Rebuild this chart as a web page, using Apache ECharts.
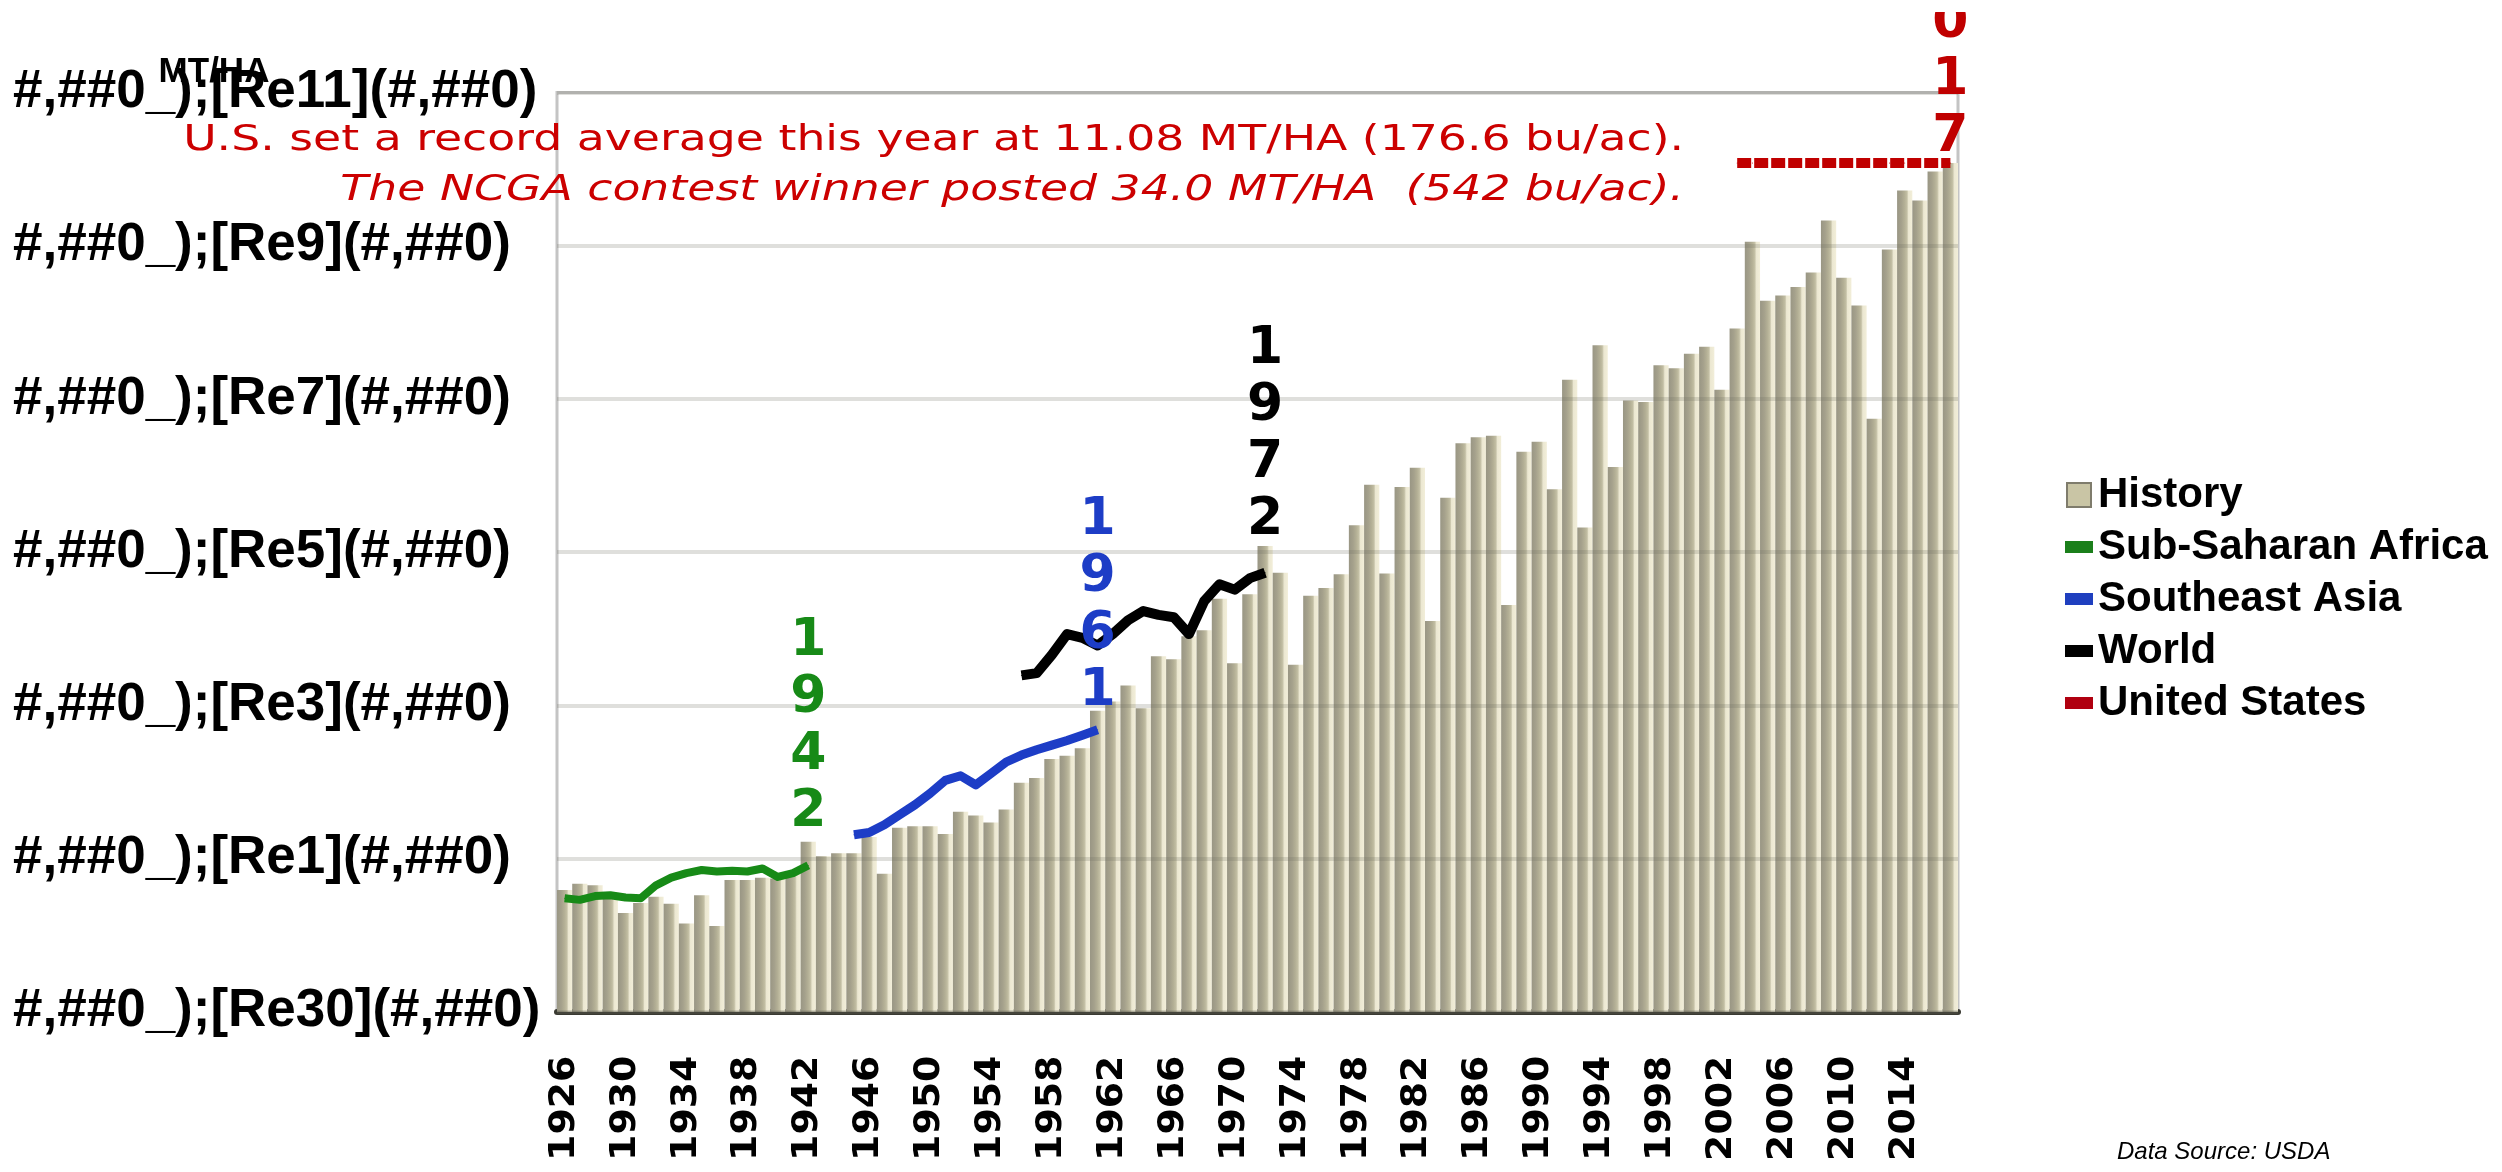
<!DOCTYPE html>
<html>
<head>
<meta charset="utf-8">
<title>U.S. corn yield history</title>
<script src="https://cdn.jsdelivr.net/npm/echarts@6/dist/echarts.min.js"></script>
<style>
  html, body { margin: 0; padding: 0; background: #ffffff; width: 2502px; height: 1172px; overflow: hidden; }
  #chart { position: absolute; left: 0; top: 12px; width: 2502px; height: 1160px; }
</style>
</head>
<body>
<div id="chart"></div>
<script>
// ---- data -------------------------------------------------------------
const years = [];
for (let y = 1926; y <= 2017; y++) years.push(String(y));

// U.S. average yield, MT/HA, 1926..2017
const historyYield = [
  1.59, 1.67, 1.65, 1.47, 1.29, 1.42, 1.50, 1.41, 1.15, 1.52,   // 1926-1935
  1.12, 1.72, 1.72, 1.75, 1.74, 1.80, 2.22, 2.03, 2.07, 2.07,   // 1936-1945
  2.28, 1.80, 2.40, 2.42, 2.42, 2.32, 2.61, 2.56, 2.47, 2.64,   // 1946-1955
  2.99, 3.05, 3.30, 3.34, 3.44, 3.93, 4.05, 4.26, 3.96, 4.64,   // 1956-1965
  4.60, 4.90, 4.98, 5.39, 4.55, 5.45, 6.08, 5.73, 4.53, 5.43,   // 1966-1975
  5.53, 5.71, 6.35, 6.88, 5.72, 6.85, 7.10, 5.10, 6.71, 7.42,   // 1976-1985
  7.50, 7.52, 5.31, 7.31, 7.44, 6.82, 8.25, 6.32, 8.70, 7.11,   // 1986-1995
  7.98, 7.96, 8.44, 8.40, 8.59, 8.68, 8.12, 8.92, 10.05, 9.28,  // 1996-2005
  9.35, 9.46, 9.65, 10.33, 9.58, 9.22, 7.74, 9.95, 10.72, 10.59, // 2006-2015
  10.97, 11.08                                                  // 2016-2017
];

const africaYears = ['1926','1927','1928','1929','1930','1931','1932','1933','1934',
                     '1935','1936','1937','1938','1939','1940','1941','1942'];
const africaYield = [1.48, 1.46, 1.51, 1.52, 1.49, 1.48, 1.65, 1.75, 1.81,
                     1.85, 1.83, 1.84, 1.83, 1.87, 1.76, 1.81, 1.91];

const asiaYears = ['1945','1946','1947','1948','1949','1950','1951','1952','1953',
                   '1954','1955','1956','1957','1958','1959','1960','1961'];
const asiaYield = [2.31, 2.34, 2.44, 2.57, 2.70, 2.85, 3.02, 3.08, 2.96,
                   3.11, 3.26, 3.35, 3.42, 3.48, 3.54, 3.61, 3.68];

const worldYears = ['1956','1957','1958','1959','1960','1961','1962','1963','1964',
                    '1965','1966','1967','1968','1969','1970','1971','1972'];
const worldYield = [4.39, 4.42, 4.66, 4.93, 4.88, 4.78, 4.93, 5.11, 5.23,
                    5.18, 5.15, 4.93, 5.36, 5.58, 5.51, 5.66, 5.73];

const usYears = ['2003','2004','2005','2006','2007','2008','2009','2010',
                 '2011','2012','2013','2014','2015','2016','2017'];
const usRecord = [11.08, 11.08, 11.08, 11.08, 11.08, 11.08, 11.08, 11.08,
                  11.08, 11.08, 11.08, 11.08, 11.08, 11.08, 11.08];

// stacked year tags shown above the end of each line
const africaTag = '1\n9\n4\n2';
const asiaTag = '1\n9\n6\n1';
const worldTag = '1\n9\n7\n2';
const usTag = '2\n0\n1\n7';

const labelYears = ['1926','1930','1934','1938','1942','1946','1950','1954','1958','1962','1966',
                    '1970','1974','1978','1982','1986','1990','1994','1998','2002','2006','2010','2014'];

const yTickLabels = [
  '#,##0_);[Re30](#,##0)',
  '#,##0_);[Re1](#,##0)',
  '#,##0_);[Re3](#,##0)',
  '#,##0_);[Re5](#,##0)',
  '#,##0_);[Re7](#,##0)',
  '#,##0_);[Re9](#,##0)',
  '#,##0_);[Re11](#,##0)'
];

const seriesNames = ['History', 'Sub-Saharan Africa', 'Southeast Asia', 'World', 'United States'];

const noteLine1 = 'U.S. set a record average this year at 11.08 MT/HA (176.6 bu/ac).';
const noteLine2 = 'The NCGA contest winner posted 34.0 MT/HA  (542 bu/ac).';

// ---- chart ------------------------------------------------------------
const chart = echarts.init(document.getElementById('chart'), null, { renderer: 'canvas' });

const barFill = new echarts.graphic.LinearGradient(0, 0, 1, 0, [
  { offset: 0.00, color: '#999684' },
  { offset: 0.28, color: '#a5a18c' },
  { offset: 0.48, color: '#b3af95' },
  { offset: 0.63, color: '#c1bda2' },
  { offset: 0.70, color: '#d5d1b9' },
  { offset: 0.74, color: '#ebe7d1' },
  { offset: 1.00, color: '#f2eed9' }
]);

function pairs(xs, vs) { return xs.map((x, i) => [x, vs[i]]); }

function withTag(xs, vs, tag, color, distance) {
  const d = pairs(xs, vs);
  const last = d.length - 1;
  d[last] = {
    value: d[last],
    label: {
      show: true, position: 'top', distance: distance, formatter: tag,
      fontFamily: 'DejaVu Sans', fontWeight: 'bold', fontSize: 52, lineHeight: 57,
      color: color, align: 'center'
    }
  };
  return d;
}

function lineSeries(name, xs, vs, color, width, tag, distance, dashed) {
  return {
    name: name,
    type: 'line',
    z: 10,
    data: withTag(xs, vs, tag, color, distance),
    showSymbol: true,
    showAllSymbol: true,
    symbol: 'circle',
    symbolSize: 1,
    itemStyle: { color: color },
    lineStyle: { color: color, width: width, join: 'round', type: dashed ? [14, 3] : 'solid' },
    label: { show: false },
    emphasis: { disabled: true },
    silent: true
  };
}

const option = {
  animation: false,
  backgroundColor: '#ffffff',
  grid: {
    left: 557, top: 80.5, width: 1401, height: 919.2,
    show: true, borderColor: '#c4c4c4', borderWidth: 3,
    containLabel: false, outerBoundsMode: 'none'
  },
  legend: {
    orient: 'vertical',
    left: 2065, top: 462,
    padding: 0,
    itemWidth: 28, itemHeight: 24, itemGap: 10,
    symbolKeepAspect: true,
    selectedMode: false,
    textStyle: { fontFamily: 'Liberation Sans', fontWeight: 'bold', fontSize: 42, lineHeight: 40, color: '#000' },
    data: [
      { name: seriesNames[0], icon: 'path://M0,0L10,0L10,10L0,10Z',
        itemStyle: { color: '#c9c5a5', borderColor: '#7f7c6c', borderWidth: 2 } },
      { name: seriesNames[1], icon: 'path://M0,0L28,0L28,12L0,12Z', itemStyle: { color: '#1b7f1b', borderWidth: 0 } },
      { name: seriesNames[2], icon: 'path://M0,0L28,0L28,12L0,12Z', itemStyle: { color: '#1f3fbf', borderWidth: 0 } },
      { name: seriesNames[3], icon: 'path://M0,0L28,0L28,12L0,12Z', itemStyle: { color: '#000000', borderWidth: 0 } },
      { name: seriesNames[4], icon: 'path://M0,0L28,0L28,12L0,12Z', itemStyle: { color: '#b00010', borderWidth: 0 } }
    ]
  },
  xAxis: {
    type: 'category',
    data: years,
    boundaryGap: true,
    axisLine: { show: true, lineStyle: { color: '#3a3a32', width: 6 } },
    axisTick: { show: false },
    axisLabel: { show: false },
    splitLine: { show: false }
  },
  yAxis: {
    type: 'value',
    min: 0, max: 12, interval: 2,
    z: 5,
    axisLine: { show: false },
    axisTick: { show: false },
    splitLine: { show: true, lineStyle: { color: 'rgba(110,110,95,0.22)', width: 4 } },
    axisLabel: {
      margin: 544,
      align: 'left',
      fontFamily: 'Liberation Sans', fontWeight: 'bold', fontSize: 53, color: '#000',
      formatter: (v) => yTickLabels[Math.round(v / 2)]
    }
  },
  graphic: [
    { type: 'text', x: 214, y: 60, z: 100,
      style: { text: 'MT/HA', font: 'bold 35px "Liberation Sans"', fill: '#000', align: 'center', verticalAlign: 'middle' } },
    { type: 'text', x: 1684, y: 129, z: 100, scaleX: 1.27,
      style: { text: noteLine1, font: '36px "DejaVu Sans"', fill: '#cc0000', align: 'right', verticalAlign: 'middle' } },
    { type: 'text', x: 1684, y: 179, z: 100, scaleX: 1.27,
      style: { text: noteLine2, font: 'italic 36px "DejaVu Sans"', fill: '#cc0000', align: 'right', verticalAlign: 'middle' } },
    { type: 'text', x: 2117, y: 1140, z: 100,
      style: { text: 'Data Source: USDA', font: 'italic 24px "Liberation Sans"', fill: '#000', align: 'left', verticalAlign: 'middle' } }
  ],
  series: [
    {
      name: seriesNames[0],
      type: 'bar',
      data: historyYield,
      barCategoryGap: '0%',
      itemStyle: { color: barFill },
      emphasis: { disabled: true },
      silent: true
    },
    lineSeries(seriesNames[1], africaYears, africaYield, '#178a17', 8, africaTag, 24, false),
    lineSeries(seriesNames[2], asiaYears, asiaYield, '#1d3dc6', 9, asiaTag, 9, false),
    lineSeries(seriesNames[3], worldYears, worldYield, '#000000', 10, worldTag, 23, false),
    lineSeries(seriesNames[4], usYears, usRecord, '#c00000', 10, usTag, -4, true),
    {
      // rotated year labels under the axis, every fourth year
      type: 'custom',
      silent: true,
      clip: false,
      z: 3,
      data: labelYears.map((y) => [y, 0]),
      renderItem: (params, api) => {
        const p = api.coord([api.value(0), 0]);
        return {
          type: 'text',
          x: p[0], y: p[1] + 44,
          rotation: Math.PI / 2,
          scaleX: 1.08,
          style: {
            text: labelYears[params.dataIndex],
            font: 'bold 35px "DejaVu Sans"',
            fill: '#000',
            align: 'right',
            verticalAlign: 'middle'
          }
        };
      }
    }
  ]
};

chart.setOption(option);
</script>
</body>
</html>
